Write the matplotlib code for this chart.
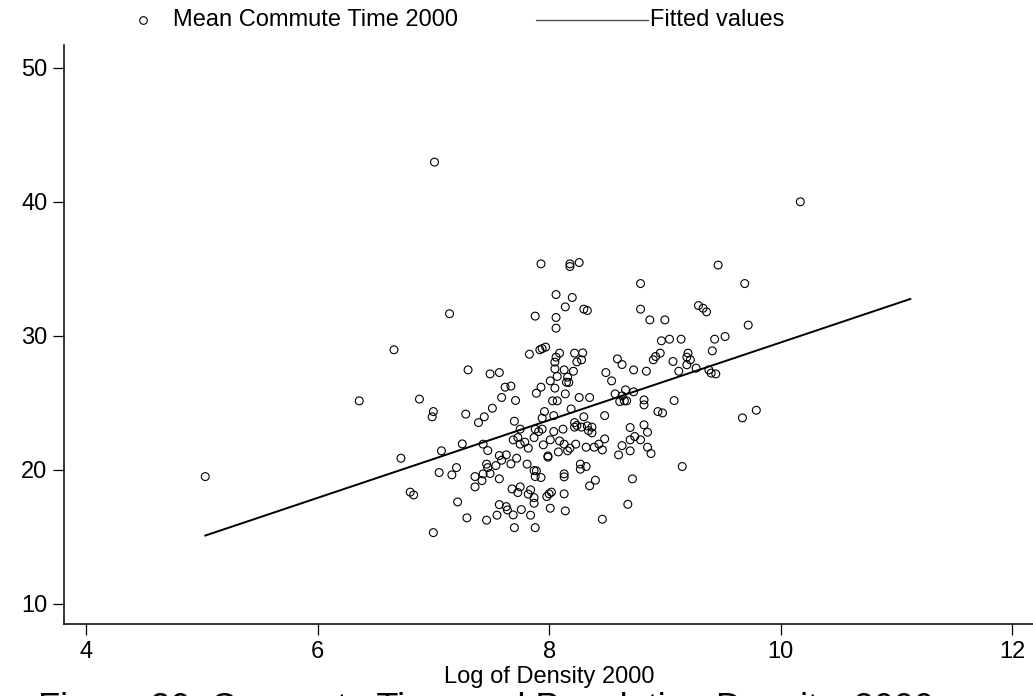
import matplotlib
matplotlib.use("Agg")
import matplotlib.pyplot as plt
from matplotlib.lines import Line2D

plt.rcParams['font.family'] = ['Liberation Sans', 'DejaVu Sans']

# Log of density 2000 (x) and mean commute time 2000 (y)
log_density = [
    5.03, 6.36, 6.66, 6.72, 7.01, 7.14, 10.17,
    7.30, 7.49, 7.57, 7.62, 7.67, 7.59, 7.71, 6.88, 7.83,
    7.93, 8.18, 8.18, 8.26, 9.46, 8.79, 9.69, 8.06, 8.20, 8.14, 8.30, 8.33,
    9.29, 9.33, 9.36, 7.88, 8.06, 8.06, 8.79, 8.87, 9.00, 9.72, 8.97, 9.04,
    9.14, 9.43, 9.52, 9.41, 7.92, 7.94, 7.97, 8.09, 8.06, 8.22, 8.29, 8.05,
    8.28, 8.24, 8.05, 8.13, 8.21, 8.07, 8.16, 8.01, 8.15, 8.17, 7.93, 8.05,
    7.89, 8.14, 8.59, 8.63, 8.49, 8.73, 8.84, 8.90, 8.92, 8.96, 9.20, 9.07,
    9.19, 9.22, 9.19, 9.12, 9.27, 9.38, 9.40, 9.44, 8.54, 8.57, 8.66, 8.73,
    8.63, 8.82, 9.08,
    7.00, 6.99, 7.28, 7.44, 7.39, 7.51, 7.70, 7.75, 7.69, 7.73, 7.75, 7.79,
    7.82, 7.43, 7.47, 7.25, 7.07, 7.57, 7.63, 7.59, 7.72, 7.67, 7.54, 7.46,
    7.81, 7.47, 7.20, 7.16, 7.05, 7.43, 7.49, 7.36, 7.57, 7.42, 7.36, 6.80,
    6.83, 7.68, 7.75, 7.73, 7.82, 7.21, 7.57, 7.63, 7.64, 7.76, 7.55, 7.69,
    7.29, 7.46, 7.70, 7.00,
    8.03, 8.07, 8.26, 8.35, 8.61, 8.65, 8.67, 8.82, 8.94, 8.98, 9.67, 9.79,
    7.96, 7.94, 8.04, 8.19, 8.30, 8.48, 7.88, 7.91, 7.94, 8.04, 8.12, 8.22,
    8.24, 8.22, 8.28, 8.33, 8.37, 8.34, 8.37, 7.87, 7.95, 8.01, 8.09, 8.13,
    8.18, 8.16, 8.08, 8.23, 8.32, 8.39, 8.43, 8.48, 8.46, 7.99, 7.99, 8.70,
    8.82, 8.85, 8.74, 8.70, 8.79, 8.63, 8.85, 8.70, 8.60, 8.88, 7.87, 7.89,
    7.88, 7.93, 8.13, 8.13, 8.27, 8.32, 8.27, 9.15, 8.40, 8.35, 8.72, 7.84,
    7.87, 7.87, 7.98, 8.00, 8.02, 8.13, 8.68, 8.01, 8.14, 7.84, 7.88, 8.46,
]
commute_time = [
    19.50, 25.15, 28.96, 20.87, 42.96, 31.65, 40.00,
    27.46, 27.16, 27.26, 26.17, 26.25, 25.40, 25.18, 25.28, 28.63,
    35.37, 35.37, 35.17, 35.47, 35.28, 33.90, 33.90, 33.08, 32.86, 32.16, 31.99, 31.89,
    32.26, 32.06, 31.79, 31.47, 31.37, 30.57, 31.99, 31.19, 31.19, 30.80, 29.63, 29.75,
    29.75, 29.75, 29.95, 28.88, 28.96, 29.05, 29.16, 28.71, 28.41, 28.71, 28.73, 28.04,
    28.21, 28.06, 27.54, 27.46, 27.36, 26.97, 26.92, 26.64, 26.54, 26.52, 26.17, 26.10,
    25.72, 25.67, 28.28, 27.86, 27.26, 27.46, 27.36, 28.21, 28.46, 28.71, 28.71, 28.09,
    28.41, 28.21, 27.84, 27.36, 27.59, 27.46, 27.22, 27.16, 26.64, 25.67, 25.97, 25.82,
    25.52, 25.22, 25.17,
    24.35, 23.96, 24.16, 23.96, 23.53, 24.60, 23.63, 23.04, 22.24, 22.41, 21.92, 22.07,
    21.62, 21.92, 21.44, 21.94, 21.42, 21.07, 21.12, 20.72, 20.87, 20.45, 20.32, 20.43,
    20.43, 20.17, 20.17, 19.63, 19.80, 19.70, 19.73, 19.50, 19.33, 19.20, 18.73, 18.34,
    18.13, 18.58, 18.73, 18.31, 18.19, 17.61, 17.41, 17.26, 17.01, 17.04, 16.62, 16.64,
    16.42, 16.25, 15.69, 15.32,
    25.15, 25.15, 25.40, 25.40, 25.10, 25.15, 25.15, 24.85, 24.35, 24.25, 23.88, 24.45,
    24.35, 23.86, 24.05, 24.55, 23.96, 24.05, 23.04, 22.86, 23.04, 22.86, 23.04, 23.19,
    23.31, 23.53, 23.19, 23.28, 23.19, 22.93, 22.76, 22.41, 21.87, 22.24, 22.16, 21.92,
    21.62, 21.42, 21.34, 21.92, 21.69, 21.69, 21.92, 22.31, 21.49, 21.04, 20.95, 23.16,
    23.36, 22.81, 22.49, 22.24, 22.24, 21.81, 21.69, 21.42, 21.12, 21.22, 19.95, 19.93,
    19.50, 19.43, 19.70, 19.48, 20.43, 20.25, 20.05, 20.25, 19.23, 18.81, 19.33, 18.51,
    17.93, 17.51, 18.01, 18.21, 18.34, 18.21, 17.43, 17.14, 16.94, 16.62, 15.69, 16.32,
]

# fitted line end points
fit_x = [5.03, 11.12]
fit_y = [15.10, 32.75]

x_ticks = [4, 6, 8, 10, 12]
y_ticks = [10, 20, 30, 40, 50]

fig = plt.figure(figsize=(10.33, 6.96), dpi=100)
ax = fig.add_axes([0.062, 0.1034, 0.938, 0.832])

ax.scatter(log_density, commute_time, s=32, facecolors='none',
           edgecolors='black', linewidths=0.8, zorder=3)
ax.plot(fit_x, fit_y, color='black', lw=1.4, zorder=2)

ax.set_xlim(3.81, 12.18)
ax.set_ylim(8.5, 51.7)
ax.set_xticks(x_ticks)
ax.set_yticks(y_ticks)
ax.spines['top'].set_visible(False)
ax.spines['right'].set_visible(False)
ax.spines['left'].set_linewidth(1.1)
ax.spines['bottom'].set_linewidth(1.1)
ax.tick_params(direction='out', length=8, width=0.9, labelsize=17, pad=4)

# x label and the caption, which runs off the bottom edge
fig.text(549 / 1033, 1 - 677 / 696, 'Log of Density 2000', ha='center',
         va='center', fontsize=17)
fig.text(486 / 1033, 1 - 692 / 696,
         'Figure 20: Commute Time and Population Density, 2000',
         ha='center', va='top', fontsize=26)

# legend on top
ly = 1 - 20 / 696
fig.add_artist(Line2D([143 / 1033], [ly], transform=fig.transFigure, marker='o',
                      markersize=5.5, mfc='none', mec='black', mew=0.8, ls='none'))
fig.text(173 / 1033, ly, 'Mean Commute Time 2000', va='center', fontsize=17)
fig.add_artist(Line2D([536 / 1033, 648 / 1033], [ly, ly], transform=fig.transFigure,
                      color='#444444', lw=0.9))
fig.text(650 / 1033, ly, 'Fitted values', va='center', fontsize=17)

fig.savefig('out.png', dpi=100)
